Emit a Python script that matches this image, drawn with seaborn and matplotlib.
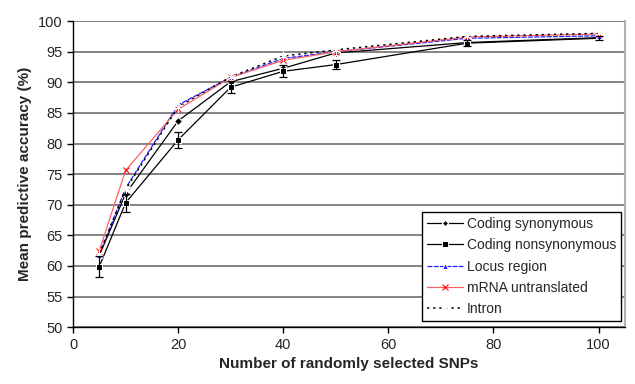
import matplotlib
matplotlib.use("Agg")
import matplotlib.pyplot as plt
import seaborn as sns
import pandas as pd

snps = [5, 10, 20, 30, 40, 50, 75, 100]
coding_syn = [61.7, 71.8, 83.7, 90.1, 92.3, 94.8, 96.5, 97.3]
coding_nonsyn = [59.9, 70.3, 80.6, 89.2, 91.8, 92.9, 96.4, 97.2]
coding_nonsyn_err = [1.7, 1.5, 1.3, 1.0, 1.0, 0.7, 0.5, 0.3]
locus_region = [61.8, 72.7, 86.3, 90.8, 93.9, 95.0, 97.2, 97.6]
mrna_untranslated = [62.5, 75.6, 85.6, 90.8, 93.6, 95.0, 97.4, 97.9]
intron = [62.0, 72.5, 86.0, 90.9, 94.3, 95.3, 97.5, 98.0]

sns.set_style("white")
plt.rcParams['font.family'] = ['Liberation Sans', 'DejaVu Sans']

fig = plt.figure(figsize=(6.35, 3.84), dpi=100)
ax = fig.add_axes([0.115, 0.148, 0.869, 0.797])

series = [
    ("Coding synonymous", coding_syn, dict(color="black", marker="D", markersize=4, linestyle="-", linewidth=0.9)),
    ("Coding nonsynonymous", coding_nonsyn, dict(color="black", marker="s", markersize=5, linestyle="-", linewidth=0.9)),
    ("Locus region", locus_region, dict(color="#2020ff", marker="^", markersize=5, linestyle=(0, (4, 1)), linewidth=0.9)),
    ("mRNA untranslated", mrna_untranslated, dict(color="#ff6060", marker="x", markersize=5, linestyle="-", linewidth=0.9, markeredgecolor="red")),
    ("Intron", intron, dict(color="black", marker=(6, 2, 0), markersize=7, linestyle=(0, (1.5, 2.5)), linewidth=1.1)),
]

for name, vals, kw in series:
    df = pd.DataFrame({"x": snps, "y": vals})
    sns.lineplot(data=df, x="x", y="y", ax=ax, label=name, **kw)

ax.errorbar(snps, coding_nonsyn, yerr=coding_nonsyn_err, fmt="none",
            ecolor="black", elinewidth=0.9, capsize=3, capthick=0.9)

ax.set_xlim(0, 105)
ax.set_ylim(50, 100)
ax.set_xticks([0, 20, 40, 60, 80, 100])
ax.set_yticks(range(50, 101, 5))
ax.yaxis.grid(True, color="#6e6e6e", linewidth=1.2)
ax.xaxis.grid(False)
for side in ["left", "bottom"]:
    ax.spines[side].set_color("black")
    ax.spines[side].set_linewidth(1)
ax.spines["top"].set_visible(False)
ax.spines["right"].set_color("#b0b0b0")
ax.spines["right"].set_linewidth(1.5)
ax.tick_params(axis="both", which="both", direction="out", length=4, width=1,
               color="black", labelsize=10.5, left=True, bottom=True)
ax.set_xlabel("Number of randomly selected SNPs", fontsize=11, fontweight="bold")
ax.set_ylabel("Mean predictive accuracy (%)", fontsize=11, fontweight="bold")

leg = ax.legend(loc="lower right", fontsize=10, frameon=True, fancybox=False,
                edgecolor="black", framealpha=1, borderpad=0.35, labelspacing=0.52,
                handlelength=2.6, handletextpad=0.3, markerscale=0.8,
                bbox_to_anchor=(1.006, -0.002))
leg.get_frame().set_linewidth(1)

fig.savefig("out.png", dpi=100)
